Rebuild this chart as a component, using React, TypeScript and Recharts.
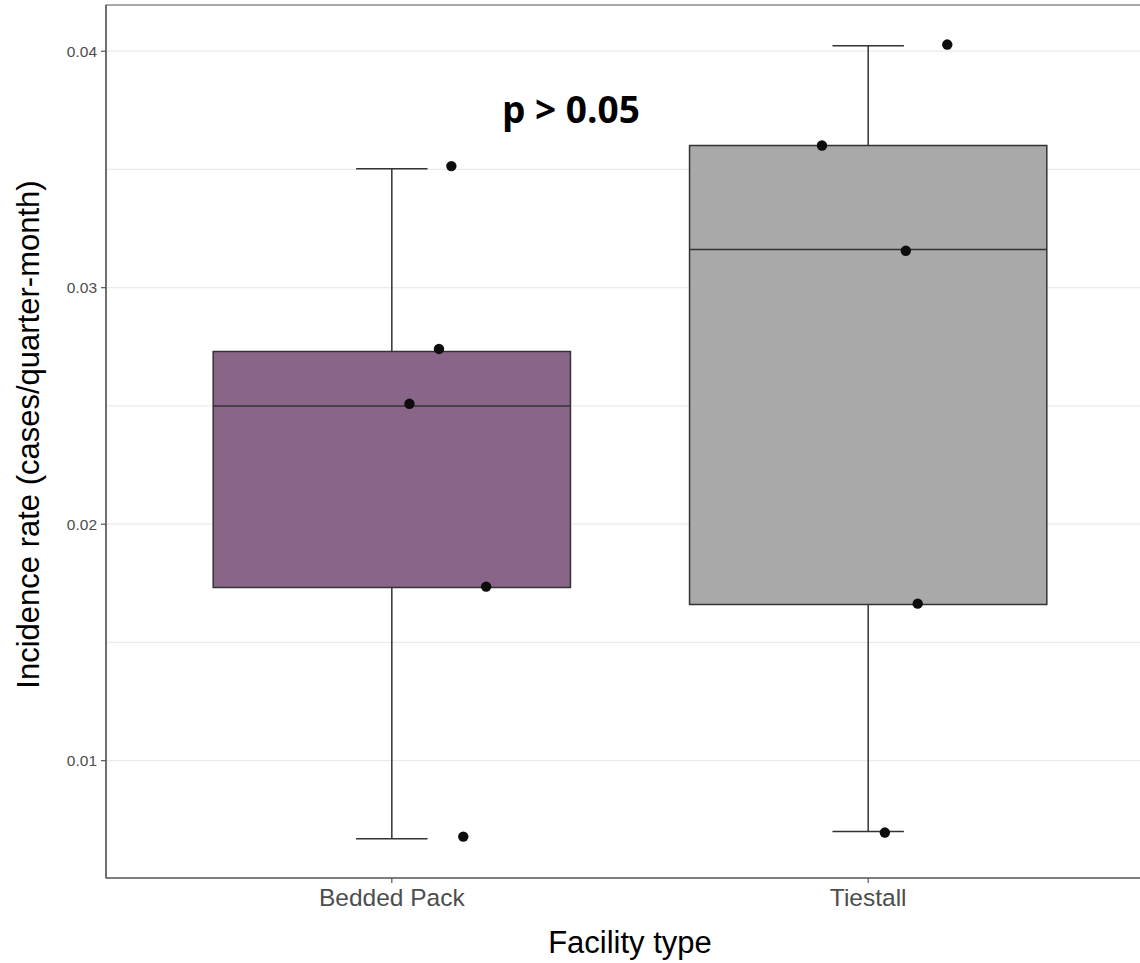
import React from "react";
import {
  ComposedChart,
  XAxis,
  YAxis,
  CartesianGrid,
  ReferenceArea,
  ReferenceLine,
  ReferenceDot,
  Scatter,
  Label,
} from "recharts";

// Facility categories (placed at x = 1, 2 on a numeric axis)
const categories = ["Bedded Pack", "Tiestall"];
const categoryPos = [1, 2];
const boxFills = ["#896689", "#A9A9A9"];

// Box-plot summary per facility type
const whiskerLow = [0.0067, 0.007];
const quartile1 = [0.01732, 0.0166];
const medians = [0.025, 0.03161];
const quartile3 = [0.0273, 0.03601];
const whiskerHigh = [0.03503, 0.04023];

// Jittered herd-level observations
const beddedX = [1.125, 1.099, 1.037, 1.198, 1.15];
const beddedY = [0.03514, 0.02741, 0.02509, 0.01736, 0.00679];
const tiestallX = [2.166, 1.903, 2.079, 2.104, 2.035];
const tiestallY = [0.04028, 0.03601, 0.03156, 0.01664, 0.00696];

const yTicks = [0.01, 0.02, 0.03, 0.04];
const gridY = [0.01, 0.015, 0.02, 0.025, 0.03, 0.035, 0.04];
const xDomain: [number, number] = [0.4, 2.6];
const yDomain: [number, number] = [0.005039, 0.041953];

const pValueText = "p > 0.05";
const pValueX = 1.376;
const pValueY = 0.03698;

const BOX_HALF = 0.375;
const CAP_HALF = 0.075;
const FONT = "'Liberation Sans', Arial, Helvetica, sans-serif";
const OUTLINE = "#333333";

const beddedPoints = beddedX.map((x, i) => ({ x, y: beddedY[i] }));
const tiestallPoints = tiestallX.map((x, i) => ({ x, y: tiestallY[i] }));

const Dot = (props: any) => (
  <circle cx={props.cx} cy={props.cy} r={5.2} fill="#0d0d0d" />
);

export default function App() {
  return (
    <div
      style={{
        position: "fixed",
        left: 0,
        top: 0,
        width: 1140,
        height: 963,
        overflow: "hidden",
        background: "#ffffff",
      }}
    >
      <ComposedChart
        width={1154}
        height={963}
        margin={{ top: 5, right: 0, bottom: 0, left: 0 }}
        style={{ fontFamily: FONT }}
      >
        <CartesianGrid
          vertical={false}
          horizontalValues={gridY}
          stroke="#ebebeb"
          strokeWidth={1.3}
        />
        <XAxis
          type="number"
          dataKey="x"
          domain={xDomain}
          allowDataOverflow
          ticks={categoryPos}
          tickFormatter={(v: number) => categories[Math.round(v) - 1]}
          tickSize={5}
          tickMargin={5.5}
          height={85}
          stroke="#555555"
          axisLine={{ stroke: "#555555", strokeWidth: 1.2 }}
          tickLine={{ stroke: "#555555", strokeWidth: 1.2 }}
          tick={{ fill: "#4d4d4d", fontSize: 24.5, fontFamily: FONT }}
        >
          <Label
            content={(props: any) => {
              const vb = props.viewBox || {};
              return (
                <text
                  x={vb.x + vb.width / 2}
                  y={vb.y + 75}
                  textAnchor="middle"
                  fontSize={31}
                  fontFamily={FONT}
                  fill="#000000"
                >
                  Facility type
                </text>
              );
            }}
          />
        </XAxis>
        <YAxis
          type="number"
          dataKey="y"
          domain={yDomain}
          allowDataOverflow
          ticks={yTicks}
          tickFormatter={(v: number) => v.toFixed(2)}
          width={106}
          tickSize={5}
          tickMargin={4}
          axisLine={{ stroke: "#555555", strokeWidth: 1.2 }}
          tickLine={{ stroke: "#555555", strokeWidth: 1.2 }}
          tick={{ fill: "#4d4d4d", fontSize: 15.5, fontFamily: FONT }}
        >
          <Label
            content={(props: any) => {
              const vb = props.viewBox || {};
              const cx = vb.x + 39;
              const cy = vb.y + vb.height / 2 - 7;
              return (
                <text
                  x={cx}
                  y={cy}
                  transform={`rotate(-90 ${cx} ${cy})`}
                  textAnchor="middle"
                  fontSize={31}
                  fontFamily={FONT}
                  fill="#000000"
                >
                  Incidence rate (cases/quarter-month)
                </text>
              );
            }}
          />
        </YAxis>

        {/* whiskers with end caps */}
        {categoryPos.map((c, i) => (
          <ReferenceLine
            key={"wu" + i}
            segment={[
              { x: c, y: quartile3[i] },
              { x: c, y: whiskerHigh[i] },
            ]}
            stroke={OUTLINE}
            strokeWidth={1.5}
          />
        ))}
        {categoryPos.map((c, i) => (
          <ReferenceLine
            key={"wl" + i}
            segment={[
              { x: c, y: whiskerLow[i] },
              { x: c, y: quartile1[i] },
            ]}
            stroke={OUTLINE}
            strokeWidth={1.5}
          />
        ))}
        {categoryPos.map((c, i) => (
          <ReferenceLine
            key={"cu" + i}
            segment={[
              { x: c - CAP_HALF, y: whiskerHigh[i] },
              { x: c + CAP_HALF, y: whiskerHigh[i] },
            ]}
            stroke={OUTLINE}
            strokeWidth={1.5}
          />
        ))}
        {categoryPos.map((c, i) => (
          <ReferenceLine
            key={"cl" + i}
            segment={[
              { x: c - CAP_HALF, y: whiskerLow[i] },
              { x: c + CAP_HALF, y: whiskerLow[i] },
            ]}
            stroke={OUTLINE}
            strokeWidth={1.5}
          />
        ))}

        {/* interquartile boxes */}
        {categoryPos.map((c, i) => (
          <ReferenceArea
            key={"box" + i}
            x1={c - BOX_HALF}
            x2={c + BOX_HALF}
            y1={quartile1[i]}
            y2={quartile3[i]}
            fill={boxFills[i]}
            fillOpacity={1}
            stroke={OUTLINE}
            strokeWidth={1.5}
          />
        ))}
        {categoryPos.map((c, i) => (
          <ReferenceLine
            key={"med" + i}
            segment={[
              { x: c - BOX_HALF, y: medians[i] },
              { x: c + BOX_HALF, y: medians[i] },
            ]}
            stroke={OUTLINE}
            strokeWidth={1.5}
          />
        ))}

        <Scatter
          data={beddedPoints}
          shape={Dot}
          isAnimationActive={false}
        />
        <Scatter
          data={tiestallPoints}
          shape={Dot}
          isAnimationActive={false}
        />

        <ReferenceDot
          x={pValueX}
          y={pValueY}
          r={0}
          shape={(props: any) => (
            <text
              x={props.cx}
              y={props.cy}
              textAnchor="middle"
              fontSize={37}
              fontWeight={700}
              fontFamily="'Open Sans', 'Noto Sans', sans-serif"
              fill="#000000"
            >
              {pValueText}
            </text>
          )}
        />

        {/* panel border */}
        <ReferenceArea
          x1={xDomain[0]}
          x2={xDomain[1]}
          y1={yDomain[0]}
          y2={yDomain[1]}
          fill="none"
          stroke="#555555"
          strokeWidth={1.2}
        />
      </ComposedChart>
    </div>
  );
}
